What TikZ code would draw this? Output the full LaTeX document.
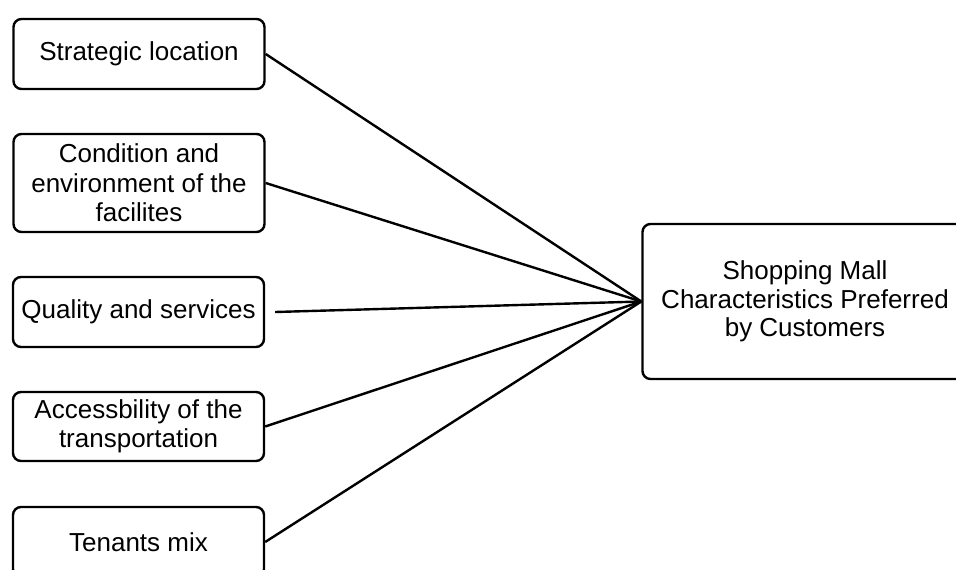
\documentclass[tikz,border=0pt]{standalone}
\usepackage{fontspec}
\setmainfont{Liberation Sans}
\begin{document}
\begin{tikzpicture}[x=1pt,y=-1pt,
  box/.style={draw, line width=2.4pt, rounded corners=8pt, rectangle, inner sep=0pt,
    align=center, font=\fontsize{26}{29.5}\selectfont, minimum width=251pt},
  link/.style={line width=2.4pt}]
\useasboundingbox (0,0) rectangle (956,570);
\clip (0,0) rectangle (956,570);
\node[box, minimum height=70pt] (a) at (139,54) {Strategic location};
\node[box, minimum height=98pt] (b) at (139,183) {Condition and\\environment of the\\facilites};
\node[box, minimum height=70pt] (c) at (138.5,312) {Quality and services};
\node[box, minimum height=69pt] (d) at (138.5,426.5) {Accessbility of the\\transportation};
\node[box, minimum height=70pt] (e) at (138.5,542) {Tenants mix};
\node[box, minimum width=325pt, minimum height=155pt, font=\fontsize{26}{28.5}\selectfont] (m) at (805,301.5) {Shopping Mall\\Characteristics Preferred\\by Customers};
\coordinate (cs) at ([xshift=10pt]c.east);
\draw[link] (a.east) -- (m.west);
\draw[link] (b.east) -- (m.west);
\draw[link] (cs) -- (m.west);
\draw[link] (d.east) -- (m.west);
\draw[link] (e.east) -- (m.west);
\end{tikzpicture}
\end{document}
